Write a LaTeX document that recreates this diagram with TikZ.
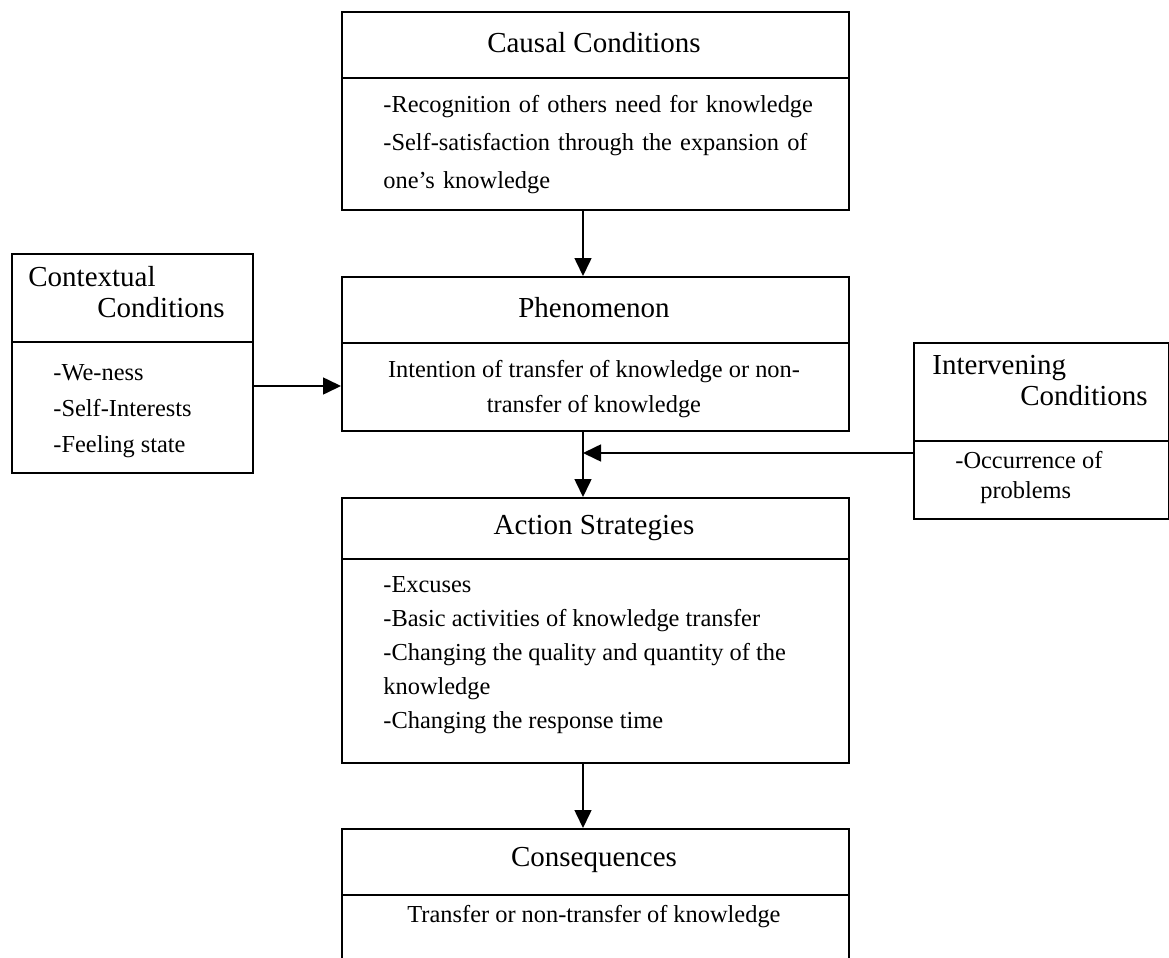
\documentclass[tikz,border=0pt]{standalone}
\usepackage{fontspec}
\setmainfont{Liberation Serif}
\usetikzlibrary{calc}
\usetikzlibrary{arrows.meta}
\newcommand{\titlesize}{\fontsize{14.5}{15.5}\selectfont}
\newcommand{\bodysize}{\fontsize{12.2}{17.5}\selectfont}

\begin{document}
\begin{tikzpicture}[x=0.5pt, y=-0.5pt,
  part/.style={draw, line width=0.8pt, anchor=north west, inner sep=0pt},
  head/.style={inner sep=0pt, font=\titlesize},
  body/.style={inner sep=0pt, font=\bodysize, align=left},
  arr/.style={line width=0.8pt, -{Triangle[length=9pt, width=8.5pt]}}]
\useasboundingbox (0,0) rectangle (1169,958);
\coordinate (mid) at (583,0);
\coordinate (ctxrow) at (0,386);
\coordinate (join) at (583,453);
% boxes: name/x/y/width/height
\foreach \n/\x/\y/\w/\h in {causalH/341/11/507/66, causalB/341/77/507/132,
  phenH/341/276/507/66, phenB/341/342/507/88,
  actH/341/497/507/61, actB/341/558/507/204,
  conqH/341/828/507/66, conqB/341/894/507/70,
  ctxH/11/253/241/88, ctxB/11/341/241/131,
  intH/913/342/255/98, intB/913/440/255/78}
 \node[part, minimum width=\w*0.5pt, minimum height=\h*0.5pt] (\n) at (\x,\y) {};
% titles
\node[head] (causalT) at (594,43) {Causal Conditions};
\node[head] (phenT) at (594,308) {Phenomenon};
\node[head] (actT) at (594,528) {Action Strategies};
\node[head] (conqT) at (594,860) {Consequences};
\node[head, anchor=west, align=left] (ctxT) at (28,292) {Contextual\\\hspace*{34.5pt}Conditions};
\node[head, anchor=west, align=left] (intT) at (932,381) {Intervening\\\hspace*{44pt}Conditions};
% contents
\node[body, anchor=west, text width=223pt, font={\fontsize{12.2}{19}\selectfont}] (causalC) at (383,145)
 {-Recognition of others need for knowledge\\\makebox[223pt][s]{-Self-satisfaction through the expansion of}\\one’s knowledge};
\node[body, align=center] (phenC) at (594,389) {Intention of transfer of knowledge or non-\\transfer of knowledge};
\node[body, anchor=west, font={\fontsize{12.2}{17}\selectfont}] (actC) at (383,655)
 {-Excuses\\-Basic activities of knowledge transfer\\-Changing the quality and quantity of the\\knowledge\\-Changing the response time};
\node[body] (conqC) at (594,917) {Transfer or non-transfer of knowledge};
\node[body, anchor=west, font={\fontsize{12.2}{18}\selectfont}] (ctxC) at (53,411) {-We-ness\\-Self-Interests\\-Feeling state};
\node[body, anchor=west, font={\fontsize{12.2}{15}\selectfont}] (intC) at (955,478) {-Occurrence of\\\hspace*{12.5pt}problems};
% connectors
\draw[arr] (causalB.south -| mid) -- (phenH.north -| mid);
\draw[arr] (ctxB.east |- ctxrow) -- (phenB.west |- ctxrow);
\draw[arr] (phenB.south -| mid) -- (actH.north -| mid);
\draw[arr] (intB.west |- join) -- (join);
\draw[arr] (actB.south -| mid) -- (conqH.north -| mid);
\end{tikzpicture}
\end{document}
